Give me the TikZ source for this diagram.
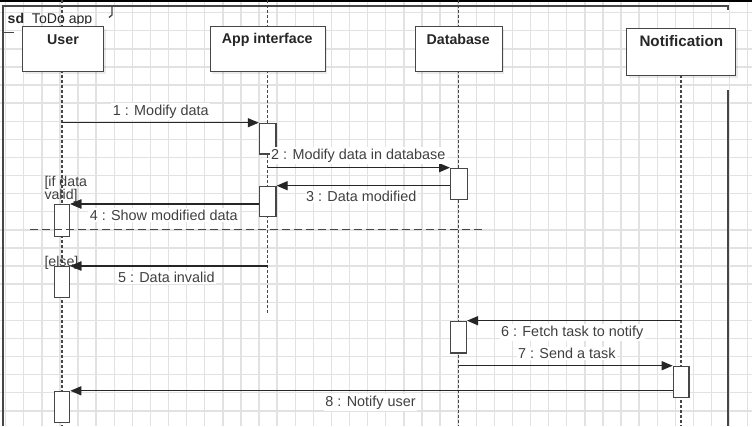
\documentclass[tikz,border=0pt]{standalone}
\usepackage{fontspec}
\setmainfont{Liberation Sans}
\usetikzlibrary{arrows.meta}
\definecolor{gridc}{RGB}{226,226,226}
\definecolor{linec}{RGB}{70,70,70}
\definecolor{txtc}{RGB}{64,64,64}
\begin{document}
\begin{tikzpicture}[x=1pt,y=-1pt,
  headbox/.style={draw=linec, line width=1.4pt, fill=white, inner sep=0},
  headtxt/.style={font=\fontsize{14.2}{16}\selectfont\bfseries, text=black!85, inner sep=0},
  act/.style={draw=linec, line width=1.3pt, fill=white, anchor=north west, inner sep=0},
  lifeline/.style={draw=linec, line width=1.2pt, dash pattern=on 3pt off 2pt},
  msg/.style={draw=black!85, line width=1.2pt, -{Triangle[length=11pt,width=9pt]}},
  lbl/.style={font=\fontsize{14.4}{16}\selectfont, text=txtc, fill=white, inner sep=1.5pt},
  guard/.style={font=\fontsize{14.2}{13}\selectfont, text=txtc, anchor=base west, inner sep=0},
  framec/.style={draw=linec, line width=1.3pt},
  sepline/.style={draw=linec, line width=1.3pt, dash pattern=on 8pt off 4pt}
]
\useasboundingbox (0,0) rectangle (752,426);
\fill[white] (0,0) rectangle (752,426);
% grid
\foreach \i in {0,...,41} \draw[gridc, line width=1.4pt] ({5.6+18.1*\i},0) -- ({5.6+18.1*\i},426);
\foreach \j in {0,...,22} \draw[gridc, line width=1.4pt] (0,{12.6+18.1*\j}) -- (752,{12.6+18.1*\j});
% top edge
\draw[black, line width=1.6pt] (0,0.8) -- (752,0.8);
% frame
\draw[framec] (3,426) -- (3,6) -- (728,6) -- (728,10);
\draw[framec] (728,90) -- (728,426);
\draw[framec] (112,6) -- (112,15) -- (109,17.5);
\draw[framec] (3,32.3) -- (14,32.3);
\begin{scope}
  \clip (4,7) rectangle (111,23.6);
  \node[anchor=base west, inner sep=0, font=\fontsize{14.1}{16}\selectfont, text=black!85] (sdlbl) at (7.5,23.4) {\textbf{sd}\ \ ToDo app};
\end{scope}
% lifelines
\draw[lifeline] (62,0) -- (62,426);
\draw[lifeline] (267.5,0) -- (267.5,313);
\draw[lifeline] (458.7,0) -- (458.7,426);
\draw[lifeline] (681,75) -- (681,426);
% headers
\fill[black, opacity=0.08] (25,29) rectangle (106,74);
\fill[black, opacity=0.08] (212,29) rectangle (327,74);
\fill[black, opacity=0.08] (417,29) rectangle (504,74);
\fill[black, opacity=0.08] (629,30.7) rectangle (738,78);
\node[headbox, anchor=north west, minimum width=81pt, minimum height=45pt] (user) at (22,26) {};
\node[headtxt] (userT) at (63,39.5) {User};
\node[headbox, anchor=north west, minimum width=115pt, minimum height=45pt] (app) at (209.5,26) {};
\node[headtxt] (appT) at (267.2,39.5) {App interface};
\node[headbox, anchor=north west, minimum width=87pt, minimum height=45pt] (db) at (414.5,26) {};
\node[headtxt] (dbT) at (458.2,39.5) {Database};
\node[headbox, anchor=north west, minimum width=109pt, minimum height=47.3pt] (notif) at (626,27.7) {};
\node[headtxt, font=\fontsize{15.2}{17}\selectfont\bfseries] (notifT) at (681.3,41.5) {Notification};
% activations
\node[act, minimum width=16.5pt, minimum height=30.6pt] (a1) at (258.8,122.7) {};
\node[act, minimum width=16.5pt, minimum height=30.3pt] (a2) at (258.8,185.7) {};
\node[act, minimum width=15.5pt, minimum height=31.7pt] (u1) at (53.5,204) {};
\node[act, minimum width=15.5pt, minimum height=30.7pt] (u2) at (53.5,266) {};
\node[act, minimum width=15.5pt, minimum height=31pt] (u3) at (53.5,390.8) {};
\node[act, minimum width=16.7pt, minimum height=31.3pt] (d1) at (450,167.7) {};
\node[act, minimum width=15.7pt, minimum height=31.6pt] (d2) at (450,320.7) {};
\node[act, minimum width=15.6pt, minimum height=31pt] (n1) at (672.7,365.7) {};
% message start points on lifelines
\coordinate (m1s) at (62,122.7);
\coordinate (m2s) at (267.5,167.7);
\coordinate (m5s) at (267.5,266);
\coordinate (m6s) at (681,320.7);
\coordinate (m7s) at (458.7,365.7);
% messages
\draw[msg] (m1s) -- (a1.north west);
\draw[msg] (m2s) -- (d1.north west);
\draw[msg] (d1.west |- a2.north east) -- (a2.north east);
\draw[msg] (a2.west |- u1.north east) -- (u1.north east);
\draw[msg] (m5s) -- (u2.north east);
\draw[msg] (m6s) -- (d2.north east);
\draw[msg] (m7s) -- (n1.north west);
\draw[msg] (n1.west |- u3.north east) -- (u3.north east);
% separator
\coordinate (sepA) at (30,229.5);
\coordinate (sepB) at (483,229.5);
\draw[sepline] (sepA) -- (sepB);
% labels
\node[lbl] (l1) at (160.8,111.7) {1 : Modify data};
\node[lbl] (l2) at (358.3,155.7) {2 : Modify data in database};
\node[lbl] (l3) at (361.2,196.7) {3 : Data modified};
\node[lbl] (l4) at (163.7,215) {4 : Show modified data};
\node[lbl] (l5) at (166.3,277.3) {5 : Data invalid};
\node[lbl] (l6) at (572.2,332.3) {6 : Fetch task to notify};
\node[lbl] (l7) at (566.8,353.3) {7 : Send a task};
\node[lbl] (l8) at (370.5,402.3) {8 : Notify user};
% guards
\node[guard] (g1a) at (44.3,186) {[if data};
\node[guard] (g1b) at (44.3,199) {valid]};
\node[guard] (g2) at (44.3,266) {[else]};
% redraw arrowheads over guards
\draw[msg] (a2.west |- u1.north east) -- (u1.north east);
\draw[msg] (m5s) -- (u2.north east);
\end{tikzpicture}
\end{document}
